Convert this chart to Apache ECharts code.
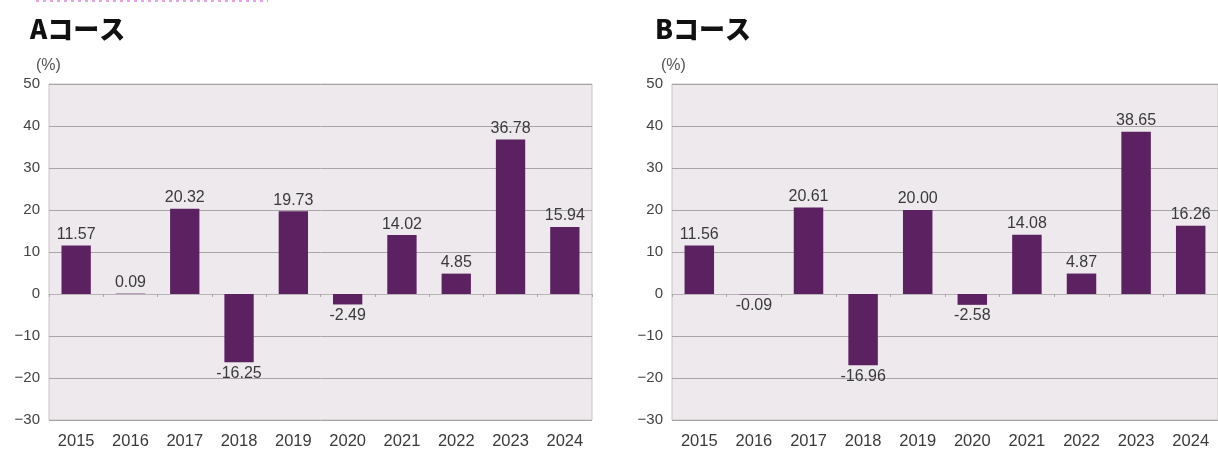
<!DOCTYPE html>
<html>
<head>
<meta charset="utf-8">
<script src="https://cdn.jsdelivr.net/npm/echarts@6/dist/echarts.min.js"></script>
<style>
  html, body { margin: 0; padding: 0; background: #fff; }
  #chart { width: 1218px; height: 452px; }
</style>
</head>
<body>
<div id="chart"></div>
<script>
// Annual returns (%) for each course
const years = ['2015', '2016', '2017', '2018', '2019', '2020', '2021', '2022', '2023', '2024'];
const courseA = [11.57, 0.09, 20.32, -16.25, 19.73, -2.49, 14.02, 4.85, 36.78, 15.94];
const courseB = [11.56, -0.09, 20.61, -16.96, 20.00, -2.58, 14.08, 4.87, 38.65, 16.26];
const titles = ['Aコース', 'Bコース'];
const unitLabel = '(%)';

const barColor = '#5b2161';
const textFont = '"Liberation Sans", Arial, sans-serif';
const titleStyle = { fontFamily: '"Noto Sans CJK JP", sans-serif', fontWeight: 900, fontSize: 26, color: '#111' };
const unitStyle = { fontFamily: textFont, fontWeight: 'normal', fontSize: 16, color: '#555' };

function barData(values) {
  return values.map(v => ({
    value: v,
    label: { position: v < 0 ? 'bottom' : 'top' }
  }));
}

const grids = [
  { left: 49, top: 84, width: 543, height: 336 },
  { left: 672, top: 84, width: 548, height: 336 }
];

const option = {
  animation: false,
  title: [
    { text: titles[0], left: 25, top: 11, textStyle: titleStyle },
    { text: titles[1], left: 650, top: 11, textStyle: titleStyle },
    { text: unitLabel, left: 31, top: 53, textStyle: unitStyle },
    { text: unitLabel, left: 656, top: 53, textStyle: unitStyle }
  ],
  graphic: [
    { type: 'line', shape: { x1: 36, y1: 1, x2: 268, y2: 1 },
      style: { stroke: '#e2a6e6', lineWidth: 2, lineDash: [3, 4] } }
  ],
  grid: grids.map(g => Object.assign({
    show: true, backgroundColor: '#ede9ec', borderColor: '#c8c4c6', borderWidth: 1
  }, g)),
  xAxis: [0, 1].map(i => ({
    type: 'category',
    gridIndex: i,
    data: years,
    position: 'bottom',
    axisLine: { onZero: true, lineStyle: { color: '#b9b4b7', width: 1 } },
    axisTick: { show: true, length: 3, lineStyle: { color: '#aaa' } },
    axisLabel: {
      color: '#3a3a3a', fontFamily: textFont, fontSize: 16.5,
      margin: 13, interval: 0
    }
  })),
  yAxis: [0, 1].map(i => ({
    type: 'value',
    gridIndex: i,
    min: -30, max: 50, interval: 10,
    axisLine: { show: false },
    axisTick: { show: false },
    axisLabel: {
      color: '#444', fontFamily: textFont, fontSize: 15, margin: 9,
      formatter: v => String(v).replace('-', '\u2212')
    },
    splitLine: { lineStyle: { color: '#a9a5a7', width: 1 } }
  })),
  series: [courseA, courseB].map((vals, i) => ({
    type: 'bar',
    xAxisIndex: i,
    yAxisIndex: i,
    data: barData(vals),
    barWidth: '54%',
    itemStyle: { color: barColor },
    label: {
      show: true,
      distance: 3,
      color: '#3a3a3a',
      fontFamily: textFont,
      fontSize: 16,
      formatter: p => p.value.toFixed(2)
    }
  }))
};

const chart = echarts.init(document.getElementById('chart'), null, { renderer: 'canvas' });
chart.setOption(option);
</script>
</body>
</html>
